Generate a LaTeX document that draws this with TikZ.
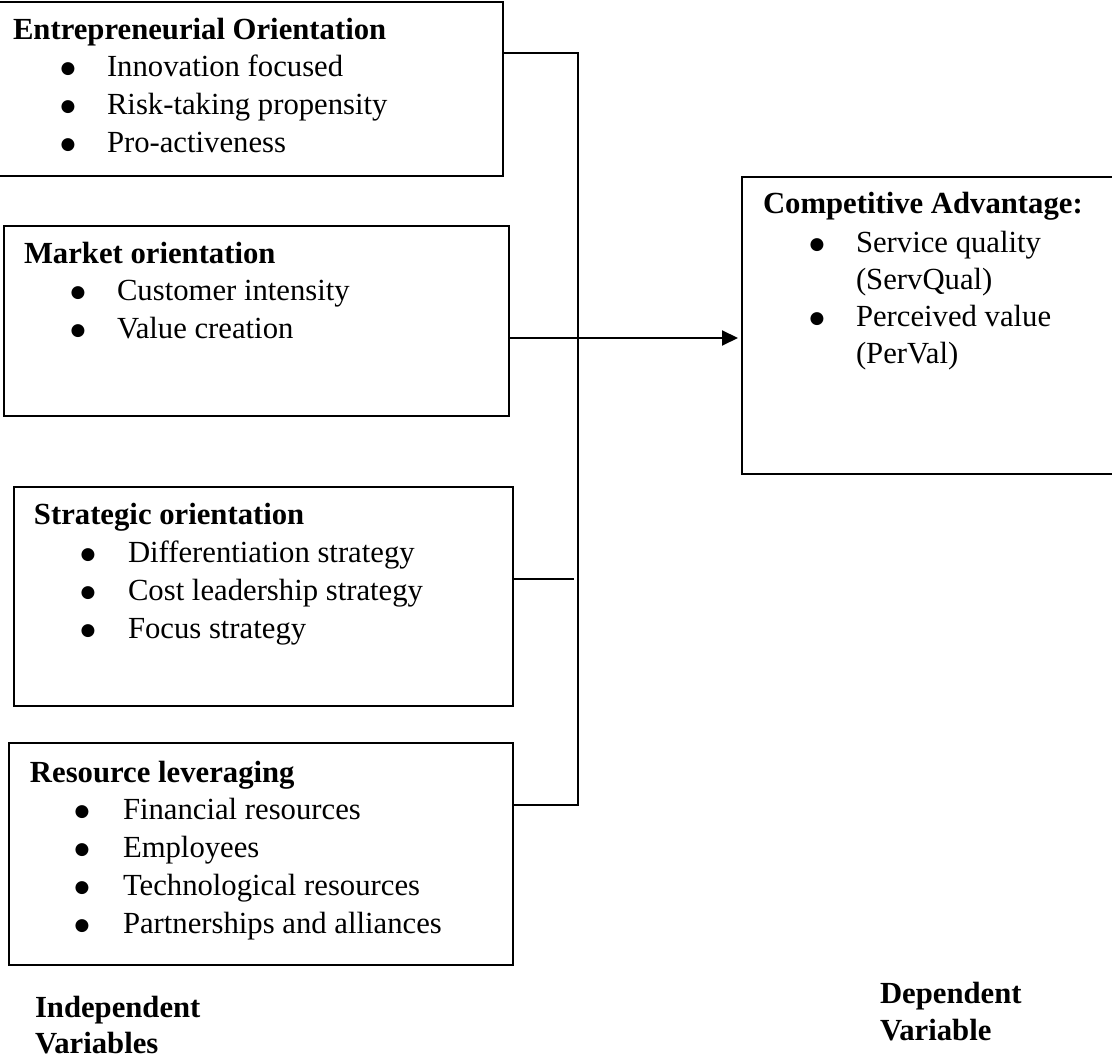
\documentclass[tikz,border=0pt]{standalone}
\usepackage{fontspec}
\setmainfont{Liberation Serif}
\newfontfamily\bulfont{DejaVu Sans}
\usetikzlibrary{arrows.meta}
\begin{document}
\begin{tikzpicture}[x=1pt,y=-1pt,
  box/.style={draw=black, line width=2pt, anchor=north west, inner sep=0pt, outer sep=0pt},
  txt/.style={anchor=base west, inner sep=0pt, outer sep=0pt, font=\fontsize{30.7}{37}\selectfont},
  hd/.style={txt, font=\fontsize{30.7}{37}\selectfont\bfseries},
  bul/.style={anchor=base, inner sep=0pt, outer sep=0pt, yshift=3pt, font=\bulfont\fontsize{17}{17}\selectfont},
  conn/.style={line width=2pt, draw=black}]
\useasboundingbox (0,0) rectangle (1112,1064);

% boxes
\node[box, minimum width=506pt, minimum height=174pt] (eo) at (-3,2) {};
\node[box, minimum width=505pt, minimum height=190pt] (mo) at (4,226) {};
\node[box, minimum width=499pt, minimum height=219pt] (so) at (14,487) {};
\node[box, minimum width=504pt, minimum height=222pt] (rl) at (9,743) {};
\node[box, minimum width=380pt, minimum height=297pt] (ca) at (742,177) {};

% Entrepreneurial Orientation
\node[hd] (eoh) at (13,40) {Entrepreneurial Orientation};
\node[bul] (eob1) at (68,77) {●};  \node[txt] (eot1) at (107,77) {Innovation focused};
\node[bul] (eob2) at (68,115) {●}; \node[txt] (eot2) at (107,115) {Risk-taking propensity};
\node[bul] (eob3) at (68,153) {●}; \node[txt] (eot3) at (107,153) {Pro-activeness};

% Market orientation
\node[hd] (moh) at (24,264) {Market orientation};
\node[bul] (mob1) at (78,301) {●}; \node[txt] (mot1) at (117,301) {Customer intensity};
\node[bul] (mob2) at (78,339) {●}; \node[txt] (mot2) at (117,339) {Value creation};

% Strategic orientation
\node[hd] (soh) at (34,525) {Strategic orientation};
\node[bul] (sob1) at (88,562) {●}; \node[txt] (sot1) at (128,562) {Differentiation strategy};
\node[bul] (sob2) at (88,600) {●}; \node[txt] (sot2) at (128,600) {Cost leadership strategy};
\node[bul] (sob3) at (88,638) {●}; \node[txt] (sot3) at (128,638) {Focus strategy};

% Resource leveraging
\node[hd] (rlh) at (30,782) {Resource leveraging};
\node[bul] (rlb1) at (82,819) {●}; \node[txt] (rlt1) at (123,819) {Financial resources};
\node[bul] (rlb2) at (82,857) {●}; \node[txt] (rlt2) at (123,857) {Employees};
\node[bul] (rlb3) at (82,895) {●}; \node[txt] (rlt3) at (123,895) {Technological resources};
\node[bul] (rlb4) at (82,933) {●}; \node[txt] (rlt4) at (123,933) {Partnerships and alliances};

% Competitive Advantage
\node[hd] (cah) at (763,214) {Competitive Advantage:};
\node[bul] (cab1) at (817,253) {●}; \node[txt] (cat1) at (856,253) {Service quality};
\node[txt] (cat1b) at (856,290) {(ServQual)};
\node[bul] (cab2) at (817,327) {●}; \node[txt] (cat2) at (856,327) {Perceived value};
\node[txt] (cat2b) at (856,364) {(PerVal)};

% captions
\node[hd] (iv1) at (35,1017) {Independent};
\node[hd] (iv2) at (35,1053) {Variables};
\node[hd] (dv1) at (880,1003) {Dependent};
\node[hd] (dv2) at (880,1040) {Variable};

% connectors
\coordinate (jt) at (578,53);
\coordinate (jb) at (578,805);
\coordinate (s3) at (574,579);
\coordinate (ah) at (738,338);
\draw[conn] (eo.east |- jt) -- (jt) -- (jb) -- (rl.east |- jb);
\draw[conn] (so.east |- s3) -- (s3);
\draw[conn, -{Triangle[length=16pt,width=15pt]}] (mo.east |- ah) -- (ah);
\end{tikzpicture}
\end{document}
